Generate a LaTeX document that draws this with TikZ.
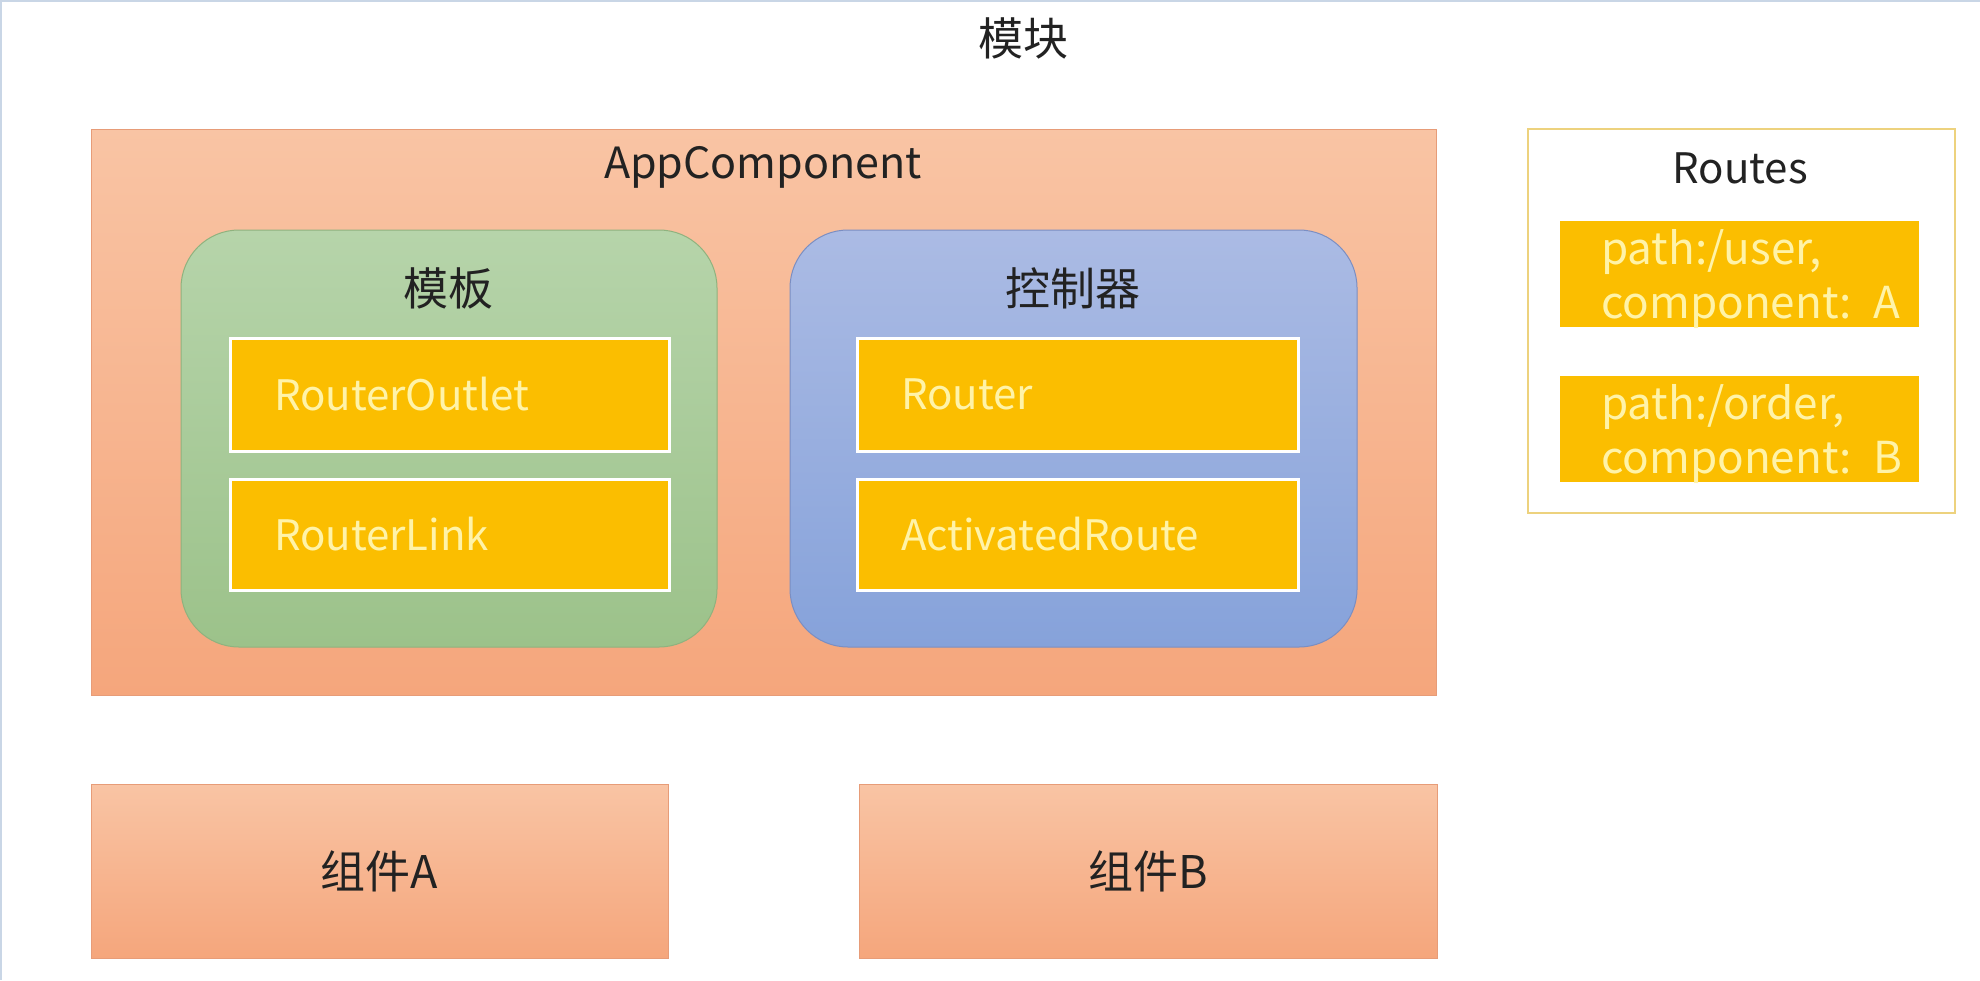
\documentclass[tikz,border=0pt]{standalone}
\usepackage{fontspec}
\setmainfont{Noto Sans CJK SC}
\usetikzlibrary{positioning}
\definecolor{orTop}{HTML}{F9C4A4}
\definecolor{orBot}{HTML}{F5A67C}
\definecolor{orEdge}{HTML}{E79C78}
\definecolor{grTop}{HTML}{B6D4AA}
\definecolor{grBot}{HTML}{9CC28A}
\definecolor{grEdge}{HTML}{8FB27E}
\definecolor{blTop}{HTML}{ABBBE4}
\definecolor{blBot}{HTML}{86A2DA}
\definecolor{blEdge}{HTML}{7B8EC2}
\definecolor{gold}{HTML}{FBBE00}
\definecolor{goldTxt}{HTML}{FFF3A8}
\definecolor{routeEdge}{HTML}{EDD27E}
\definecolor{ink}{HTML}{222222}
\definecolor{frameLine}{HTML}{C9D6E6}
\tikzset{
  box/.style={anchor=north west, inner sep=0pt, outer sep=0pt, rectangle},
  orangebox/.style={box, draw=orEdge, line width=1pt, top color=orTop, bottom color=orBot},
  greenbox/.style={box, draw=grEdge, line width=1pt, rounded corners=58pt, top color=grTop, bottom color=grBot},
  bluebox/.style={box, draw=blEdge, line width=1pt, rounded corners=58pt, top color=blTop, bottom color=blBot},
  goldbox/.style={box, fill=gold, draw=white, line width=3pt, text=goldTxt, font=\fontsize{42}{48}\selectfont, align=left, inner xsep=44pt},
  routebox/.style={box, fill=gold},
  routetext/.style={anchor=west, inner sep=0pt, text=goldTxt, font=\fontsize{44}{54}\selectfont, align=left},
  title/.style={text=ink, font=\fontsize{43}{48}\selectfont, inner sep=0pt},
  cjktitle/.style={text=ink, font=\fontsize{45}{50}\selectfont, inner sep=0pt},
}
\begin{document}
\begin{tikzpicture}[x=1pt, y=-1pt]
\useasboundingbox[fill=white] (0,0) rectangle (1980,980);
\draw[frameLine, line width=2pt] (0,1) -- (1980,1);
\draw[frameLine, line width=2pt] (1,0) -- (1,980);

\node[cjktitle] (mod) at (1023,38) {模块};

% AppComponent
\node[orangebox, minimum width=1345pt, minimum height=566pt] (app) at (91,129) {};
\node[title] (appt) at (763,167) {AppComponent};

% template
\node[greenbox, minimum width=536pt, minimum height=417pt] (tpl) at (181,230) {};
\node[cjktitle] (tplt) at (448,288) {模板};
\node[goldbox, minimum width=439pt, minimum height=113pt, text width=351pt] (outlet) at (230,338) {RouterOutlet};
\node[goldbox, minimum width=439pt, minimum height=111pt, text width=351pt] (link) at (230,479) {RouterLink};

% controller
\node[bluebox, minimum width=567pt, minimum height=417pt] (ctl) at (790,230) {};
\node[cjktitle] (ctlt) at (1073,288) {控制器};
\node[goldbox, minimum width=441pt, minimum height=113pt, text width=353pt] (router) at (857,338) {Router};
\node[goldbox, minimum width=441pt, minimum height=111pt, text width=353pt] (actr) at (857,479) {ActivatedRoute};

% Routes
\node[box, draw=routeEdge, line width=2pt, fill=white, minimum width=427pt, minimum height=384pt] (routes) at (1528,129) {};
\node[title, font=\fontsize{42}{48}\selectfont] (routest) at (1740,168) {Routes};
\node[routebox, minimum width=359pt, minimum height=106pt] (r1) at (1560,221) {};
\node[routetext] (r1t) at ([xshift=41pt, yshift=-5pt]r1.west) {path:/user,\\component:\hspace{22pt}A};
\node[routebox, minimum width=359pt, minimum height=106pt] (r2) at (1560,376) {};
\node[routetext] (r2t) at ([xshift=41pt, yshift=-5pt]r2.west) {path:/order,\\component:\hspace{22pt}B};

% components
\node[orangebox, minimum width=577pt, minimum height=174pt] (ca) at (91,784) {};
\node[cjktitle] at (ca.center) {组件A};
\node[orangebox, minimum width=578pt, minimum height=174pt] (cb) at (859,784) {};
\node[cjktitle] at (cb.center) {组件B};
\end{tikzpicture}
\end{document}
